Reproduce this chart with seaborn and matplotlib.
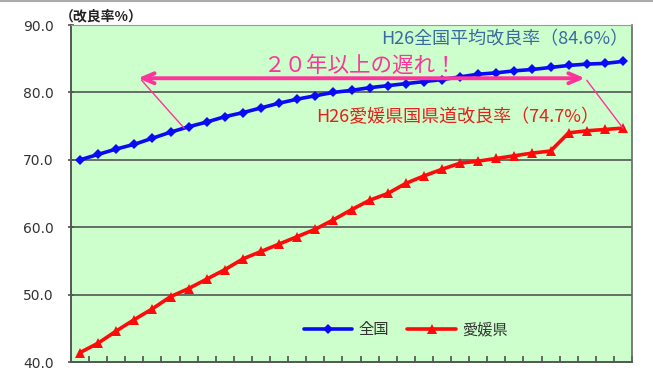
import numpy as np
import pandas as pd
import matplotlib
matplotlib.use("Agg")
import matplotlib.pyplot as plt
from matplotlib.lines import Line2D
import seaborn as sns

# Dane - 31 lat
lata = list(range(31))
zenkoku = [70.0, 70.8, 71.6, 72.3, 73.2, 74.1, 74.9, 75.6, 76.4, 77.0,
           77.7, 78.4, 79.0, 79.5, 80.0, 80.3, 80.7, 81.0, 81.3, 81.6,
           81.9, 82.3, 82.7, 82.9, 83.2, 83.4, 83.7, 84.0, 84.2, 84.3, 84.6]
ehime = [41.4, 42.8, 44.6, 46.3, 47.9, 49.7, 50.9, 52.3, 53.7, 55.3,
         56.4, 57.5, 58.6, 59.7, 61.1, 62.6, 64.0, 65.0, 66.5, 67.6,
         68.6, 69.5, 69.8, 70.2, 70.6, 71.0, 71.3, 74.0, 74.3, 74.5, 74.7]
yticks = [40, 50, 60, 70, 80, 90]

sns.set_theme(style="white")
plt.rcParams['font.family'] = ['Noto Sans CJK JP', 'DejaVu Sans']

fig = plt.figure(figsize=(6.53, 3.75), dpi=100)
ax = fig.add_axes([71 / 653, 13 / 375, 561 / 653, 337 / 375])
ax.set_facecolor("#CCFFCC")

sns.lineplot(x=lata, y=zenkoku, ax=ax, color="#0A0AF5", lw=2.6,
             marker="D", markersize=5, markeredgewidth=0, label="全国")
sns.lineplot(x=lata, y=ehime, ax=ax, color="#FF0A0A", lw=2.6,
             marker="^", markersize=7, markeredgewidth=0, label="愛媛県")

ax.set_xlim(-0.5, 30.5)
ax.set_ylim(40, 90)
ax.set_xticks(np.arange(-0.5, 31, 1))
ax.set_xticklabels([])
ax.set_yticks(yticks)
ax.set_yticklabels([f"{v:.1f}" for v in yticks], fontsize=10, color="#333333",
                   family=['DejaVu Sans'])
ax.tick_params(axis="x", direction="in", length=4, color="#555555", bottom=True)
ax.tick_params(axis="y", direction="inout", length=5, color="#555555", left=True, pad=10)
for v in yticks[1:-1]:
    ax.axhline(v, color="#555555", lw=1.2, zorder=0.5)
ax.set_xlabel("")
ax.set_ylabel("")

for s in ["left", "bottom"]:
    ax.spines[s].set_color("#555555")
    ax.spines[s].set_linewidth(1.4)
ax.spines["right"].set_color("#666666")
ax.spines["right"].set_linewidth(1.2)
ax.spines["top"].set_color("#999999")
ax.spines["top"].set_linewidth(0.8)

leg = ax.legend(loc="lower left", bbox_to_anchor=(0.39, 0.03), ncol=2, frameon=False,
                fontsize=11, handlelength=3.2, columnspacing=1.2, handletextpad=0.4)
for t in leg.get_texts():
    t.set_color("#333333")

# Opisy
fig.text(60 / 653, 1 - 16 / 375, "（改良率%）", fontsize=10, fontweight="bold",
         color="#222222", va="center", ha="left")
ax.text(30.3, 87.9, "H26全国平均改良率（84.6%）", fontsize=13, color="#3A6AA0",
        ha="right", va="center")
ax.text(10.1, 84.0, "２０年以上の遅れ！", fontsize=15.5, color="#FF3399",
        ha="left", va="center")
ax.text(28.7, 76.3, "H26愛媛県国県道改良率（74.7%）", fontsize=13, color="#E8201A",
        ha="right", va="center")

# Strzałka opóźnienia
y_str = 82.1
x_lewy = np.interp(ehime[-1], zenkoku, lata)
ax.annotate("", xy=(3.2, y_str), xytext=(27.9, y_str),
            arrowprops=dict(arrowstyle="<->,head_length=0.7,head_width=0.3",
                            color="#FF3399", lw=2.8, shrinkA=0, shrinkB=0))
ax.plot([3.4, x_lewy], [81.8, ehime[-1]], color="#FF3399", lw=1)
ax.plot([28.0, lata[-1]], [81.8, ehime[-1]], color="#FF3399", lw=1)

fig.add_artist(Line2D([0, 1], [0.998, 0.998], color="#AAAAAA", lw=1.5))

fig.savefig("out.png", dpi=100)
